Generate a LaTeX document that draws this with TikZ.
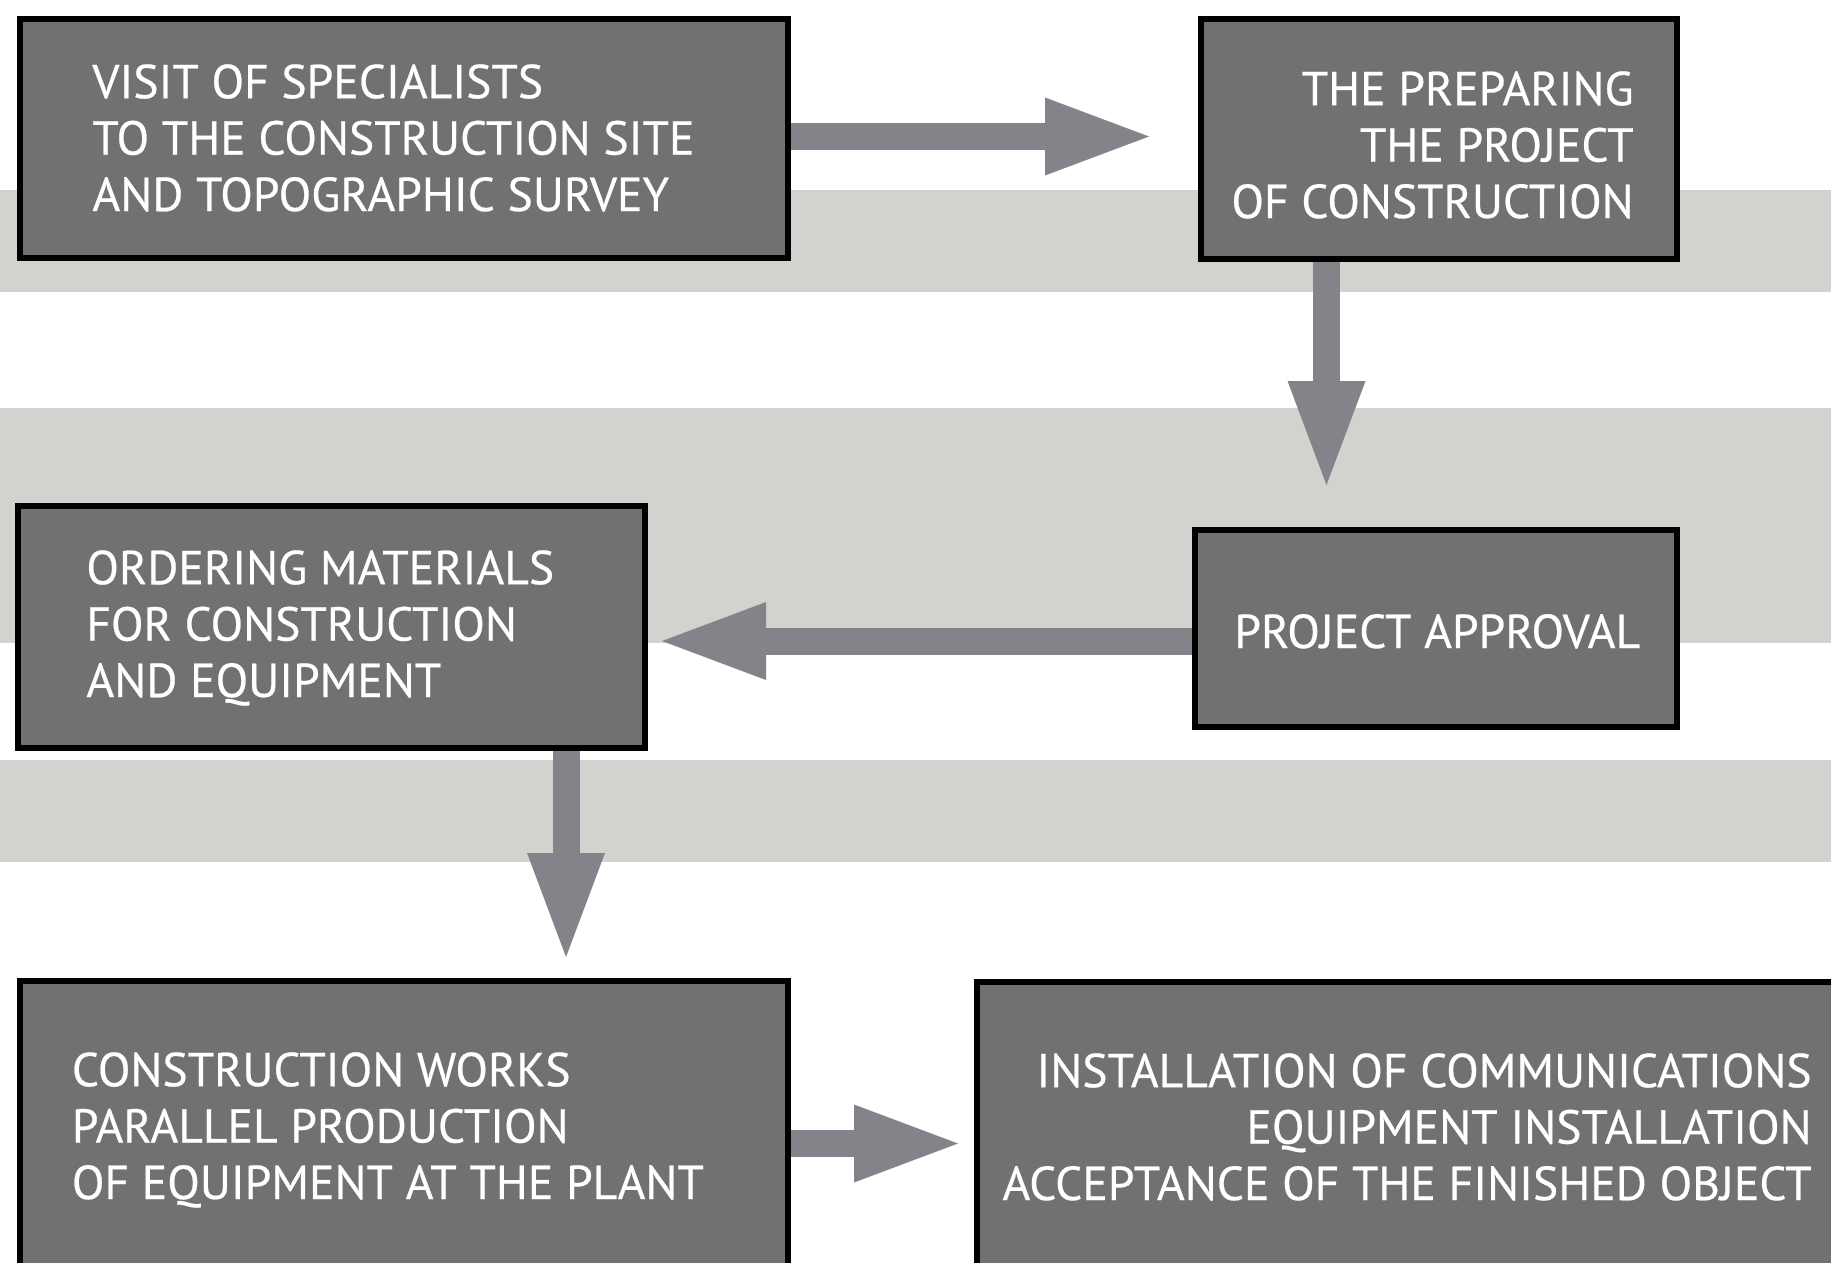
\documentclass[tikz,border=0pt]{standalone}
\usepackage{fontspec}
\setmainfont{PT Sans}
\newfontfamily\txtfont{PT Sans}[FakeBold=0.5]
\usetikzlibrary{arrows.meta}
\definecolor{boxfill}{RGB}{113,113,113}
\definecolor{bandc}{RGB}{211,210,206}
\definecolor{arrowc}{RGB}{133,131,138}
\tikzset{
  box/.style={draw=black, line width=2.8pt, fill=boxfill, rectangle, inner sep=0pt},
  txt/.style={text=white, font=\txtfont\fontsize{23.8pt}{28.2pt}\selectfont, inner sep=0pt},
  flow/.style={draw=arrowc, line width=13.5pt, -{Triangle[length=52pt,width=39pt,line width=0pt]}},
}
\begin{document}
\begin{tikzpicture}[x=0.5pt,y=-0.5pt]
\useasboundingbox (0,0) rectangle (1831,1263);
\clip (0,0) rectangle (1831,1263);
% bands
\fill[bandc] (0,190) rectangle (1831,292);
\fill[bandc] (0,408) rectangle (1831,643);
\fill[bandc] (0,760) rectangle (1831,862);
% boxes
\node[box, minimum width=384.2pt, minimum height=119.7pt] (b1) at (404,138.5) {};
\node[box, minimum width=238.2pt, minimum height=120.2pt] (b2) at (1439,139) {};
\node[box, minimum width=241.2pt, minimum height=98.7pt] (b3) at (1436,628.5) {};
\node[box, minimum width=313.7pt, minimum height=121.2pt] (b4) at (331.5,627) {};
\node[box, minimum width=384.2pt, minimum height=158.2pt] (b5) at (404,1139) {};
\node[box, minimum width=460.2pt, minimum height=157.7pt] (b6) at (1437,1139.5) {};
% texts (anchor at the baseline of the last line)
\node[txt, align=left, anchor=base west] (t1) at (92,211) {VISIT OF SPECIALISTS\\TO THE CONSTRUCTION SITE\\AND TOPOGRAPHIC SURVEY};
\node[txt, align=right, anchor=base east] (t2) at (1634,218) {THE PREPARING\\THE PROJECT\\OF CONSTRUCTION};
\node[txt, align=left, anchor=base west] (t3) at (1234,648) {PROJECT APPROVAL};
\node[txt, align=left, anchor=base west] (t4) at (86,697) {ORDERING MATERIALS\\FOR CONSTRUCTION\\AND EQUIPMENT};
\node[txt, align=left, anchor=base west] (t5) at (71.5,1199) {CONSTRUCTION WORKS\\PARALLEL PRODUCTION\\OF EQUIPMENT AT THE PLANT};
\node[txt, align=right, anchor=base east] (t6) at (1812,1200) {INSTALLATION OF COMMUNICATIONS\\EQUIPMENT INSTALLATION\\ACCEPTANCE OF THE FINISHED OBJECT};
% arrow guides
\coordinate (a1y) at (0,136.5);
\coordinate (a2x) at (1326.5,0);
\coordinate (a3y) at (0,641);
\coordinate (a4x) at (566,0);
\coordinate (a5y) at (0,1143.5);
% connectors
\draw[flow, shorten >=24.5pt] (b1.east |- a1y) -- (b2.west |- a1y);
\draw[flow, shorten >=21pt] (b2.south -| a2x) -- (b3.north -| a2x);
\draw[flow, shorten >=7pt] (b3.west |- a3y) -- (b4.east |- a3y);
\draw[flow, shorten >=10.5pt] (b4.south -| a4x) -- (b5.north -| a4x);
\draw[flow, shorten >=8pt] (b5.east |- a5y) -- (b6.west |- a5y);
\end{tikzpicture}
\end{document}
